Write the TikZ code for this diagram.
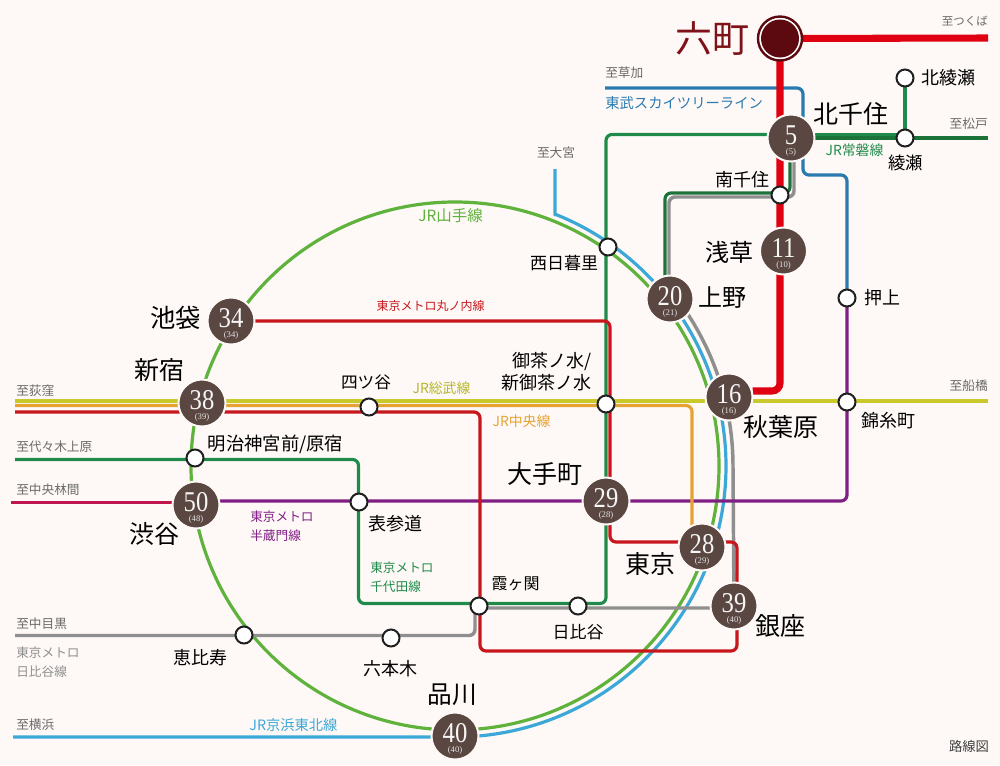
\documentclass[tikz,border=0pt]{standalone}
\usepackage{fontspec}
\usepackage{graphicx}
\newfontfamily\cjk{Noto Sans CJK JP}
\newfontfamily\numserif{Liberation Serif}
\pgfdeclarelayer{back}
\pgfsetlayers{back,main}
\definecolor{pagebg}{HTML}{FEF9F6}
\definecolor{stfill}{HTML}{5A4742}
\definecolor{rokudark}{HTML}{5C0A10}
\definecolor{rokutext}{HTML}{7E1218}
\definecolor{tx}{HTML}{DF0011}
\definecolor{maru}{HTML}{C8161D}
\definecolor{chiyoda}{HTML}{1F8A4A}
\definecolor{joban}{HTML}{1C7238}
\definecolor{yamanote}{HTML}{5FB23C}
\definecolor{keihin}{HTML}{3BA8D8}
\definecolor{hibiya}{HTML}{8F8F8F}
\definecolor{sobu}{HTML}{C9C92C}
\definecolor{chuo}{HTML}{E6A232}
\definecolor{hanzo}{HTML}{7F1F84}
\definecolor{denen}{HTML}{C0144F}
\definecolor{tobu}{HTML}{2A7AB0}
\definecolor{dest}{HTML}{6A6A6A}
\newcommand\numtxt[2]{\smash{\makebox[0pt]{\raisebox{-4.7pt}{\numserif\fontsize{21.5}{21.5}\selectfont\scalebox{.86}[1]{#1}}}}\smash{\makebox[0pt]{\raisebox{-12.6pt}{\numserif\fontsize{6.5}{6.5}\selectfont\color{white!85!stfill}(#2)}}}}
\tikzset{
  rail/.style={line width=2.4pt,line join=round,rounded corners=4.5pt},
  bigst/.style={circle,inner sep=0pt,outer sep=0pt,minimum size=35.25pt,fill=stfill,draw=pagebg,line width=1.5pt,text=white!95!stfill},
  smallst/.style={circle,inner sep=0pt,outer sep=0pt,minimum size=12.75pt,fill=white,draw=black!88,line width=1.5pt},
  jp/.style={inner sep=0pt,font=\cjk\fontsize{#1}{14.3pt}\selectfont},
  destlabel/.style={jp=9.5,text=dest},
}
\begin{document}
\begin{tikzpicture}[x=0.75pt,y=-0.75pt]
\useasboundingbox (0,0) rectangle (1000,765);

% stations
\node[circle,inner sep=0pt,outer sep=0pt,minimum size=33pt,fill=white,draw=rokudark,line width=1.8pt] (rokuring) at (780,38.5) {};
\node[circle,inner sep=0pt,outer sep=0pt,minimum size=28.5pt,fill=rokudark] (roku) at (780,38.5) {};
\node[bigst] (s5) at (791,138) {\numtxt{5}{5}};
\node[bigst] (s11) at (783.5,251) {\numtxt{11}{10}};
\node[bigst] (s20) at (670,299) {\numtxt{20}{21}};
\node[bigst] (s16) at (729,397) {\numtxt{16}{16}};
\node[bigst] (s29) at (606,501) {\numtxt{29}{28}};
\node[bigst] (s28) at (702,547) {\numtxt{28}{29}};
\node[bigst] (s39) at (734,606) {\numtxt{39}{40}};
\node[bigst] (s40) at (455,736) {\numtxt{40}{40}};
\node[bigst] (s34) at (231,321) {\numtxt{34}{34}};
\node[bigst] (s38) at (202,403) {\numtxt{38}{39}};
\node[bigst] (s50) at (196,505) {\numtxt{50}{48}};
\node[smallst] (minami) at (780,195) {};
\node[smallst] (nishi) at (608,247) {};
\node[smallst] (oshiage) at (847,298) {};
\node[smallst] (ayase) at (905,138) {};
\node[smallst] (kitaayase) at (905,78) {};
\node[smallst] (kinshi) at (847,402) {};
\node[smallst] (ocha) at (606,404) {};
\node[smallst] (yotsuya) at (369,407) {};
\node[smallst] (meiji) at (195,458) {};
\node[smallst] (omote) at (359,502) {};
\node[smallst] (kasumi) at (479,606) {};
\node[smallst] (hibi) at (578,606) {};
\node[smallst] (ebisu) at (244,635) {};
\node[smallst] (roppongi) at (391,638) {};

% free ends
\coordinate (endTsukuba) at (988,38);
\coordinate (endSoka) at (605,88);
\coordinate (endMatsudo) at (988,138);
\coordinate (endOmiya) at (555,169);
\coordinate (endOgikuboY) at (15,401);
\coordinate (endFunabashi) at (988,401);
\coordinate (endOgikuboO) at (15,405.5);
\coordinate (endOgikuboR) at (15,412);
\coordinate (endYoyogi) at (15,459.5);
\coordinate (endRinkan) at (11,502.5);
\coordinate (endNaka) at (15,635.5);
\coordinate (endYoko) at (13,737);

\begin{pgfonlayer}{back}
\fill[pagebg] (0,0) rectangle (1000,765);
% Yamanote
\draw[yamanote,line width=2.4pt] (455,466) circle [radius=264];
% Keihin-Tohoku
\draw[keihin,line width=2.4pt,line join=round] (endOmiya) -- (555,215) -- plot[domain=-68.3:90,samples=160,smooth] ({455+271*cos(\x)},{466+271*sin(\x)}) -- (endYoko);
% Hibiya
\draw[hibiya,line width=2.6pt,rounded corners=4.5pt] (794,138) -- (794,197) -- (669,197) -- (669,290);
\draw[hibiya,line width=2.6pt,line join=round] plot[domain=-39.6:0,samples=60,smooth] ({455+278*cos(\x)},{466+278*sin(\x)}) -- (s39);
\draw[hibiya,line width=2.6pt,rounded corners=4.5pt] (endNaka) -- (475,635.5) -- (475,608) -- (s39.west |- 0,608);
% Chiyoda
\draw[chiyoda,rail] (endYoyogi) -- (358.5,459.5) -- (358.5,603.5) -- (606,603.5) -- (606,134.5) -- (791,134.5) -- (791,135);
\draw[chiyoda,line width=2.4pt] (791,134.5) -- (ayase.west |- 0,134.5);
\draw[joban,rail] (790,138) -- (790,193) -- (665,193) -- (665,290);
\draw[joban,line width=2.4pt] (s5) -- (endMatsudo);
\draw[chiyoda,line width=2.4pt] (kitaayase) -- (ayase);
% Tobu
\draw[tobu,rail] (endSoka) -- (803,88) -- (803,175) -- (847,175) -- (oshiage);
% Hanzomon
\draw[hanzo,rail] (oshiage) -- (847,501) -- (196,501);
\draw[denen,line width=2.4pt] (endRinkan) -- (s50.west |- 0,502.5);
% Sobu, Chuo
\draw[sobu,line width=2.4pt] (endOgikuboY) -- (endFunabashi);
\draw[chuo,rail] (endOgikuboO) -- (692,405.5) -- (692,547);
% Marunouchi
\draw[maru,rail] (s34) -- (610,321) -- (610,542) -- (737,542) -- (737,651) -- (480,651) -- (480,412) -- (endOgikuboR);
% Tsukuba Express
\draw[tx,line width=5.3pt] (rokuring) -- (endTsukuba);
\draw[tx,line width=5.3pt,rounded corners=6pt] (rokuring) -- (780,391) -- (s16.east |- 0,391);
\end{pgfonlayer}

% station names
\node[jp=27.75,text=rokutext] (tRoku) at (712,39) {六町};
\node[jp=18.75] (tKitasenju) at (850.5,114) {北千住};
\node[jp=13.5] (tKitaayase) at (948,78) {北綾瀬};
\node[jp=13] (tAyase) at (905.5,163) {綾瀬};
\node[jp=13.5] (tMinami) at (742.5,180) {南千住};
\node[jp=12.75] (tNishi) at (564,263) {西日暮里};
\node[jp=18] (tAsakusa) at (729,252) {浅草};
\node[jp=18] (tUeno) at (722.5,298) {上野};
\node[jp=13.5] (tOshiage) at (882,298) {押上};
\node[jp=18.75] (tAkiba) at (780.5,427) {秋葉原};
\node[jp=13.5] (tKinshi) at (888,421) {錦糸町};
\node[jp=13.5,align=right,anchor=east] (tOcha) at (592,372) {御茶ノ水/\\[2pt]新御茶ノ水};
\node[jp=12.5] (tYotsuya) at (366,382.5) {四ツ谷};
\node[jp=18.75] (tOte) at (545,474) {大手町};
\node[jp=19] (tIke) at (175.5,318) {池袋};
\node[jp=18.75] (tShinjuku) at (159.5,370) {新宿};
\node[jp=13.75] (tMeiji) at (275.5,444) {明治神宮前/原宿};
\node[jp=18.75] (tShibuya) at (154.5,534) {渋谷};
\node[jp=13.5] (tOmote) at (395,524) {表参道};
\node[jp=12] (tKasumi) at (515.5,584) {霞ヶ関};
\node[jp=12.75] (tHibi) at (578,632) {日比谷};
\node[jp=18.75] (tTokyo) at (650.5,564) {東京};
\node[jp=18.75] (tGinza) at (780.5,626) {銀座};
\node[jp=18.5] (tShina) at (452.5,695) {品川};
\node[jp=13.5] (tEbisu) at (200,658) {恵比寿};
\node[jp=13.5] (tRoppongi) at (390.5,669) {六本木};

% destinations
\node[jp=8.6,text=dest,anchor=east] (dTsukuba) at (988,21) {至つくば};
\node[destlabel,anchor=west] (dSoka) at (605,73) {至草加};
\node[destlabel,anchor=east] (dMatsudo) at (988,124) {至松戸};
\node[destlabel] (dOmiya) at (556,153) {至大宮};
\node[destlabel,anchor=east] (dFuna) at (988,386) {至船橋};
\node[destlabel,anchor=west] (dOgi) at (16,391) {至荻窪};
\node[destlabel,anchor=west] (dYoyo) at (16,447) {至代々木上原};
\node[destlabel,anchor=west] (dRinkan) at (16,490) {至中央林間};
\node[destlabel,anchor=west] (dNaka) at (16,624) {至中目黒};
\node[destlabel,anchor=west] (dYoko) at (16,725) {至横浜};

% line names
\node[jp=10.75,text=tobu,anchor=west] (lTobu) at (605,103) {東武スカイツリーライン};
\node[jp=10.4,text=chiyoda] (lJoban) at (854.5,150) {JR常磐線};
\node[jp=11.6,text=yamanote] (lYama) at (450.5,216) {JR山手線};
\node[jp=9,text=maru] (lMaru) at (430.5,306) {東京メトロ丸ノ内線};
\node[jp=10.4,text=sobu!90!black] (lSobu) at (441.5,388) {JR総武線};
\node[jp=10.4,text=chuo] (lChuo) at (521.5,421) {JR中央線};
\node[jp=9.5,text=hanzo,align=left,anchor=west] (lHanzo) at (250,526.5) {東京メトロ\\半蔵門線};
\node[jp=9.5,text=chiyoda,align=left,anchor=west] (lChiyoda) at (370,577) {東京メトロ\\千代田線};
\node[jp=9.5,text=hibiya,align=left,anchor=west] (lHibiya) at (16,662) {東京メトロ\\日比谷線};
\node[jp=10.7,text=keihin] (lKeihin) at (293.5,725) {JR京浜東北線};
\node[jp=10,text=black!75] (tRosen) at (969,746) {路線図};
\end{tikzpicture}
\end{document}
